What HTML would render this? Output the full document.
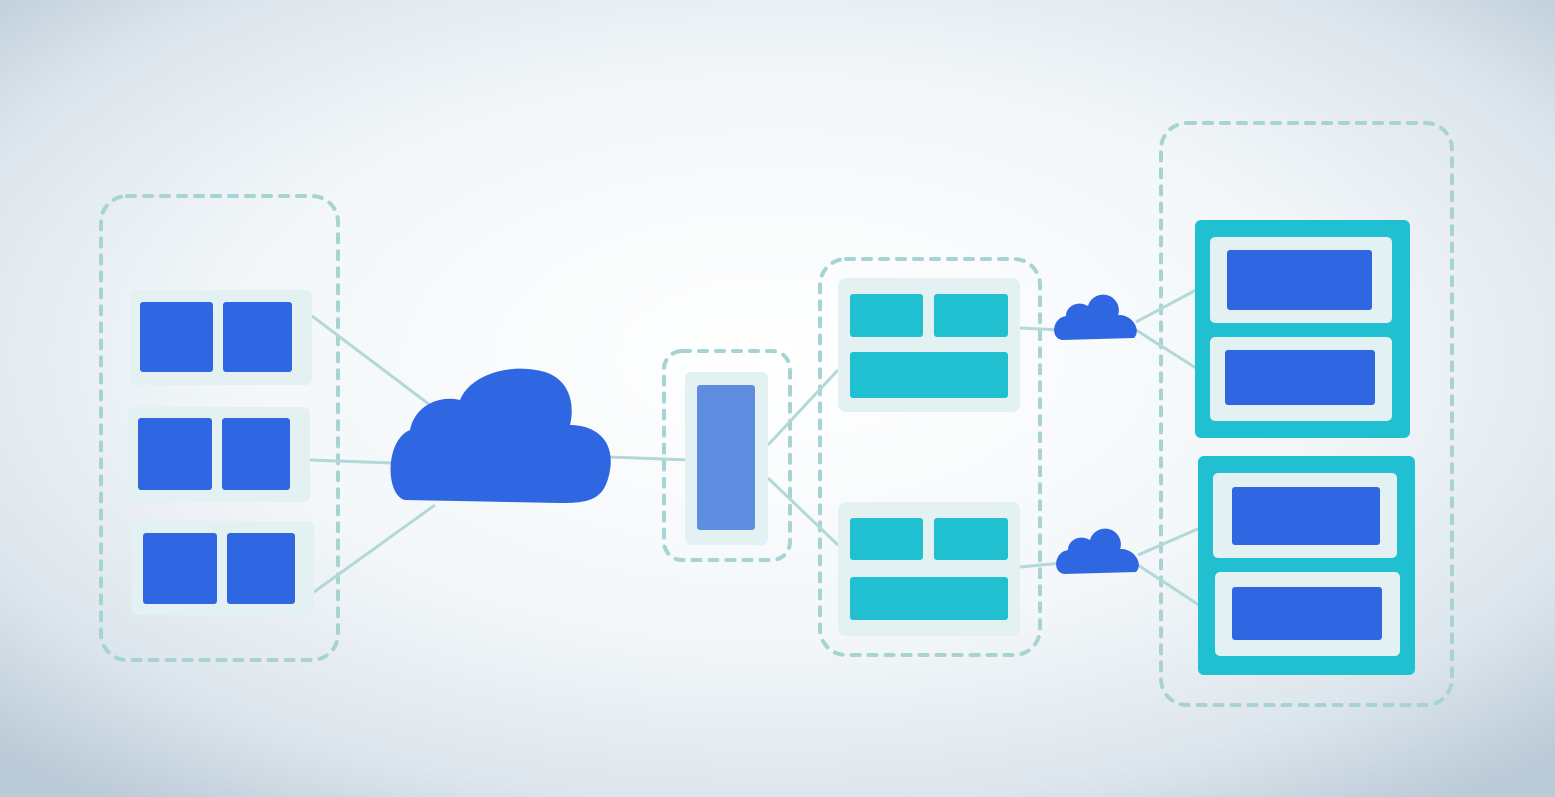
<!DOCTYPE html>
<html><head><meta charset="utf-8"><style>
html,body{margin:0;padding:0;width:1555px;height:797px;overflow:hidden}
body{background:radial-gradient(ellipse 62% 60% at 50% 48%,#ffffff 0%,#f6f9fb 45%,#e3eaf0 75%,#c7d4df 100%)}
svg{position:absolute;left:0;top:0}
</style></head><body>
<svg width="1555" height="797" viewBox="0 0 1555 797">
<defs>
<radialGradient id="bg" cx="50%" cy="45%" r="70%">
<stop offset="0" stop-color="#ffffff"/><stop offset="0.5" stop-color="#f3f7f9"/><stop offset="0.8" stop-color="#dde6ed"/><stop offset="1" stop-color="#bccbd8"/>
</radialGradient>
</defs>
<rect width="1555" height="797" fill="url(#bg)"/>
<g fill="none" stroke="#a8d3d3" stroke-width="4" stroke-dasharray="8 9" stroke-linecap="round">
<rect x="101" y="196" width="237" height="464" rx="26"/>
<rect x="664" y="351" width="126" height="209" rx="18"/>
<rect x="820" y="259" width="220" height="396" rx="26"/>
<rect x="1161" y="123" width="291" height="582" rx="26"/>
</g>
<g stroke="#b3d8d8" stroke-width="3" fill="none">
<line x1="312" y1="316" x2="430" y2="405"/>
<line x1="310" y1="460" x2="392" y2="463"/>
<line x1="314" y1="592" x2="435" y2="505"/>
<line x1="608" y1="457" x2="690" y2="460"/>
<line x1="768" y1="445" x2="838" y2="370"/>
<line x1="768" y1="478" x2="838" y2="545"/>
<line x1="1020" y1="328" x2="1060" y2="330"/>
<line x1="1020" y1="567" x2="1062" y2="563"/>
<line x1="1136" y1="322" x2="1196" y2="290"/>
<line x1="1136" y1="330" x2="1196" y2="368"/>
<line x1="1138" y1="555" x2="1200" y2="528"/>
<line x1="1138" y1="565" x2="1202" y2="607"/>
</g>
<g fill="#e3f1f3">
<rect x="130" y="290" width="182" height="95" rx="6"/>
<rect x="128" y="407" width="182" height="95" rx="6"/>
<rect x="132" y="521" width="182" height="94" rx="6"/>
<rect x="685" y="372" width="83" height="173" rx="6"/>
<rect x="838" y="278" width="182" height="134" rx="8"/>
<rect x="838" y="502" width="182" height="134" rx="8"/>
</g>
<g fill="#2f66e2">
<rect x="140" y="302" width="73" height="70" rx="3"/>
<rect x="223" y="302" width="69" height="70" rx="3"/>
<rect x="138" y="418" width="74" height="72" rx="3"/>
<rect x="222" y="418" width="68" height="72" rx="3"/>
<rect x="143" y="533" width="74" height="71" rx="3"/>
<rect x="227" y="533" width="68" height="71" rx="3"/>
</g>
<rect x="697" y="385" width="58" height="145" rx="3" fill="#5f8ddf"/>
<g fill="#20c0d1">
<rect x="850" y="294" width="73" height="43" rx="3"/>
<rect x="934" y="294" width="74" height="43" rx="3"/>
<rect x="850" y="352" width="158" height="46" rx="3"/>
<rect x="850" y="518" width="73" height="42" rx="3"/>
<rect x="934" y="518" width="74" height="42" rx="3"/>
<rect x="850" y="577" width="158" height="43" rx="3"/>
<rect x="1195" y="220" width="215" height="218" rx="6"/>
<rect x="1198" y="456" width="217" height="219" rx="6"/>
</g>
<g fill="#e3f1f3">
<rect x="1210" y="237" width="182" height="86" rx="5"/>
<rect x="1210" y="337" width="182" height="84" rx="5"/>
<rect x="1213" y="473" width="184" height="85" rx="5"/>
<rect x="1215" y="572" width="185" height="84" rx="5"/>
</g>
<g fill="#2f66e2">
<rect x="1227" y="250" width="145" height="60" rx="3"/>
<rect x="1225" y="350" width="150" height="55" rx="3"/>
<rect x="1232" y="487" width="148" height="58" rx="3"/>
<rect x="1232" y="587" width="150" height="53" rx="3"/>
<path d="M405 500 C385 495 385 440 410 430 C415 405 440 395 460 400 C470 375 510 362 545 372 C570 380 575 405 570 425 C595 425 615 440 610 470 C605 500 590 503 560 503 Z"/>
<path d="M1062 340 C1050 338 1052 318 1066 316 C1066 306 1078 300 1088 306 C1092 292 1112 290 1118 305 C1120 312 1118 315 1118 315 C1132 314 1142 330 1134 338 Z"/>
<path d="M1064 574 C1052 572 1054 552 1068 550 C1068 540 1080 534 1090 540 C1094 526 1114 524 1120 539 C1122 546 1120 549 1120 549 C1134 548 1144 564 1136 572 Z"/>
</g>
</svg>
</body></html>
